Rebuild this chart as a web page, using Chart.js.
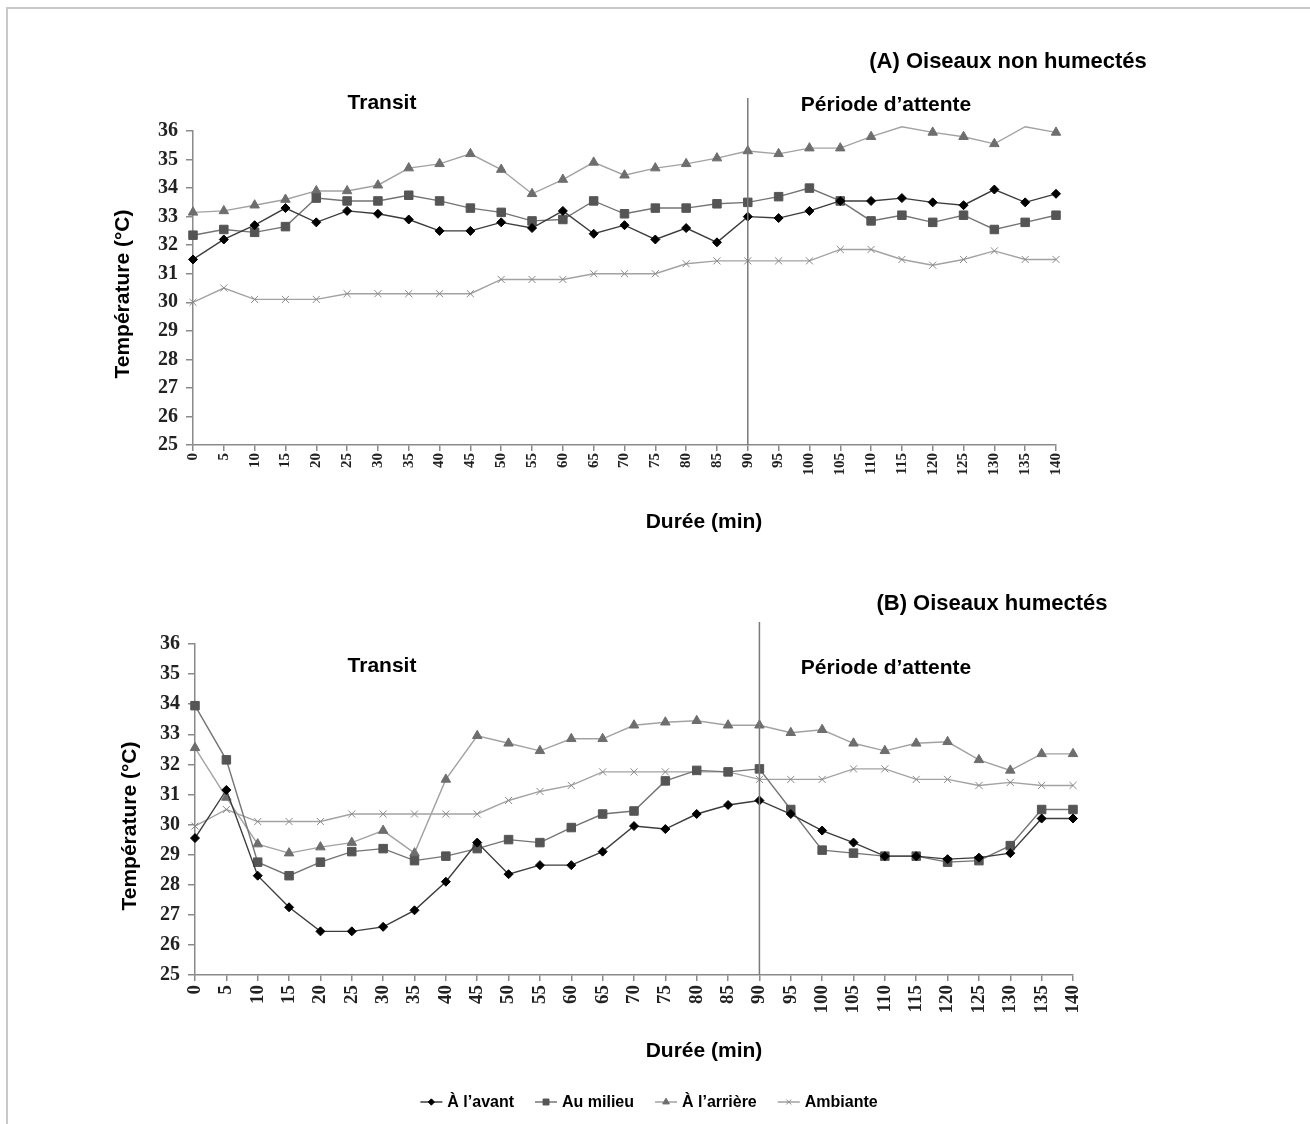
<!DOCTYPE html>
<html lang="fr">
<head>
<meta charset="UTF-8">
<title>Température des oiseaux pendant le transport</title>
<script src="https://cdn.jsdelivr.net/npm/chart.js@4.4.1/dist/chart.umd.min.js"></script>
<style>
  html, body { margin: 0; padding: 0; background: #fff; }
  body { width: 1310px; height: 1124px; position: relative; overflow: hidden; }
  #cadre { position: absolute; left: 6px; top: 7px; width: 1400px; height: 1200px;
           border-left: 2px solid #c8c8c8; border-top: 2px solid #c8c8c8; }
  canvas { position: absolute; left: 0; }
  #graphA { top: 0; }
  #graphB { top: 560px; }
</style>
</head>
<body>
<div id="cadre"></div>
<canvas id="graphA" width="1310" height="560"></canvas>
<canvas id="graphB" width="1310" height="564"></canvas>

<script>
// Durée (min)
const durees = [0, 5, 10, 15, 20, 25, 30, 35, 40, 45, 50, 55, 60, 65, 70,
                75, 80, 85, 90, 95, 100, 105, 110, 115, 120, 125, 130, 135, 140];

const noms = ['À l\u2019avant', 'Au milieu', 'À l\u2019arrière', 'Ambiante'];

// (A) Oiseaux non humectés
const avantA    = [31.5, 32.2, 32.7, 33.3, 32.8, 33.2, 33.1, 32.9, 32.5, 32.5, 32.8, 32.6, 33.2, 32.4, 32.7,
                   32.2, 32.6, 32.1, 33.0, 32.95, 33.2, 33.55, 33.55, 33.65, 33.5, 33.4, 33.95, 33.5, 33.8];
const milieuA   = [32.35, 32.55, 32.45, 32.65, 33.65, 33.55, 33.55, 33.75, 33.55, 33.3, 33.15, 32.85, 32.9, 33.55, 33.1,
                   33.3, 33.3, 33.45, 33.5, 33.7, 34.0, 33.55, 32.85, 33.05, 32.8, 33.05, 32.55, 32.8, 33.05];
const arriereA  = [33.15, 33.2, 33.4, 33.6, 33.9, 33.9, 34.1, 34.7, 34.85, 35.2, 34.65, 33.8, 34.3, 34.9, 34.45,
                   34.7, 34.85, 35.05, 35.3, 35.2, 35.4, 35.4, 35.8, 36.15, 35.95, 35.8, 35.55, 36.15, 35.95];
const ambianteA = [30.0, 30.5, 30.1, 30.1, 30.1, 30.3, 30.3, 30.3, 30.3, 30.3, 30.8, 30.8, 30.8, 31.0, 31.0,
                   31.0, 31.35, 31.45, 31.45, 31.45, 31.45, 31.85, 31.85, 31.5, 31.3, 31.5, 31.8, 31.5, 31.5];

// (B) Oiseaux humectés
const avantB    = [29.55, 31.15, 28.3, 27.25, 26.45, 26.45, 26.6, 27.15, 28.1, 29.4, 28.35, 28.65, 28.65, 29.1, 29.95,
                   29.85, 30.35, 30.65, 30.8, 30.35, 29.8, 29.4, 28.95, 28.95, 28.85, 28.9, 29.05, 30.2, 30.2];
const milieuB   = [33.95, 32.15, 28.75, 28.3, 28.75, 29.1, 29.2, 28.8, 28.95, 29.2, 29.5, 29.4, 29.9, 30.35, 30.45,
                   31.45, 31.8, 31.75, 31.85, 30.5, 29.15, 29.05, 28.95, 28.95, 28.75, 28.8, 29.3, 30.5, 30.5];
const arriereB  = [32.55, 30.9, 29.35, 29.05, 29.25, 29.4, 29.8, 29.05, 31.5, 32.95, 32.7, 32.45, 32.85, 32.85, 33.3,
                   33.4, 33.45, 33.3, 33.3, 33.05, 33.15, 32.7, 32.45, 32.7, 32.75, 32.15, 31.8, 32.35, 32.35];
const ambianteB = [29.95, 30.5, 30.1, 30.1, 30.1, 30.35, 30.35, 30.35, 30.35, 30.35, 30.8, 31.1, 31.3, 31.75, 31.75,
                   31.75, 31.75, 31.75, 31.5, 31.5, 31.5, 31.85, 31.85, 31.5, 31.5, 31.3, 31.4, 31.3, 31.3];

const yMin = 25, yMax = 36;

const styles = [
  { pointStyle: 'rectRot',  radius: 4.5, line: '#3c3c3c', fill: '#000000' },
  { pointStyle: 'rect',     radius: 6,   line: '#747474', fill: '#555555' },
  { pointStyle: 'triangle', radius: 5.5, line: '#a2a2a2', fill: '#6e6e6e' },
  { pointStyle: 'crossRot', radius: 5,   line: '#a2a2a2', fill: '#888888' }
];

const sans = '"Liberation Sans", Arial, sans-serif';
const serif = '"Liberation Serif", "Times New Roman", serif';

// textes, trait vertical à 90 min et légende commune
function decor(cfg) {
  return {
    id: 'decor',
    afterDatasetsDraw(chart) {
      const { ctx, chartArea, scales } = chart;
      const xp = scales.x.getPixelForValue(durees.indexOf(90));
      ctx.save();
      ctx.strokeStyle = '#7a7a7a';
      ctx.lineWidth = 1.5;
      ctx.beginPath();
      ctx.moveTo(xp, cfg.lineTop);
      ctx.lineTo(xp, chartArea.bottom);
      ctx.stroke();

      ctx.fillStyle = '#000';
      ctx.textAlign = 'center';
      ctx.textBaseline = 'middle';
      ctx.font = 'bold 22px ' + sans;
      ctx.fillText(cfg.titre, cfg.titreX, cfg.titreY);
      ctx.font = 'bold 21px ' + sans;
      ctx.fillText('Transit', 382, cfg.phaseY);
      ctx.fillText('Période d\u2019attente', 886, cfg.phaseY + 2);
      ctx.fillText('Durée (min)', 704, cfg.dureeY);

      ctx.save();
      ctx.translate(cfg.tempX, cfg.tempY);
      ctx.rotate(-Math.PI / 2);
      ctx.fillText('Température (°C)', 0, 0);
      ctx.restore();

      if (cfg.legende) {
        ctx.font = 'bold 16px ' + sans;
        ctx.textAlign = 'left';
        const seg = 22, gap = 5, space = 21;
        const widths = noms.map(n => ctx.measureText(n).width);
        const total = widths.reduce((s, w) => s + seg + gap + w, 0) + space * (noms.length - 1);
        let x = 649 - total / 2;
        const y = cfg.legendeY;
        noms.forEach((nom, i) => {
          const st = styles[i];
          ctx.strokeStyle = st.line;
          ctx.lineWidth = 1.5;
          ctx.beginPath();
          ctx.moveTo(x, y);
          ctx.lineTo(x + seg, y);
          ctx.stroke();
          ctx.fillStyle = st.fill;
          ctx.strokeStyle = st.fill;
          ctx.lineWidth = 1;
          Chart.helpers.drawPoint(ctx, { pointStyle: st.pointStyle, radius: st.radius * 0.7, rotation: 0, borderWidth: 1 }, x + seg / 2, y);
          ctx.fillStyle = '#000';
          ctx.fillText(nom, x + seg + gap, y + 1);
          x += seg + gap + widths[i] + space;
        });
      }
      ctx.restore();
    }
  };
}

function graphique(id, valeurs, cfg) {
  const datasets = valeurs.map((v, i) => {
    const st = styles[i];
    return {
      label: noms[i],
      data: v,
      borderColor: st.line,
      borderWidth: 1.4,
      pointStyle: st.pointStyle,
      pointRadius: ctx => (ctx.raw > yMax ? 0 : st.radius),
      pointBackgroundColor: st.fill,
      pointBorderColor: st.fill,
      pointBorderWidth: 1,
      tension: 0,
      clip: false
    };
  });

  return new Chart(document.getElementById(id), {
    type: 'line',
    data: { labels: durees, datasets },
    options: {
      responsive: false,
      animation: false,
      events: [],
      layout: { padding: { left: 0, top: cfg.top, right: 1310 - cfg.right, bottom: cfg.bottomPad } },
      plugins: { legend: { display: false }, tooltip: { enabled: false } },
      scales: {
        x: {
          type: 'category',
          offset: false,
          afterFit: s => { s.height = 100; },
          border: { display: true, color: '#8a8a8a', width: 1.5 },
          grid: { display: true, drawOnChartArea: false, drawTicks: true, tickLength: 6, color: '#8a8a8a', lineWidth: 1.5 },
          ticks: {
            autoSkip: false, minRotation: 90, maxRotation: 90, padding: cfg.xPad,
            color: '#222', font: { family: serif, weight: 'bold', size: cfg.xFont }
          }
        },
        y: {
          min: yMin, max: yMax,
          afterFit: s => { s.width = cfg.left; },
          border: { display: true, color: '#8a8a8a', width: 1.5 },
          grid: { display: true, drawOnChartArea: false, drawTicks: true, tickLength: 7, color: '#8a8a8a', lineWidth: 1.5 },
          ticks: { stepSize: 1, padding: 8, color: '#222', font: { family: serif, weight: 'bold', size: 20 } }
        }
      }
    },
    plugins: [decor(cfg)]
  });
}

graphique('graphA', [avantA, milieuA, arriereA, ambianteA], {
  left: 193, right: 1056, top: 131, bottomPad: 15, xPad: 2, xFont: 15,
  lineTop: 98, titre: '(A) Oiseaux non humectés', titreX: 1008, titreY: 62,
  phaseY: 103, dureeY: 522, tempX: 123, tempY: 294, legende: false
});

graphique('graphB', [avantB, milieuB, arriereB, ambianteB], {
  left: 195, right: 1073, top: 84, bottomPad: 49, xPad: 4, xFont: 19,
  lineTop: 62, titre: '(B) Oiseaux humectés', titreX: 992, titreY: 44,
  phaseY: 106, dureeY: 491, tempX: 130, tempY: 266, legende: true, legendeY: 542
});
</script>
</body>
</html>
